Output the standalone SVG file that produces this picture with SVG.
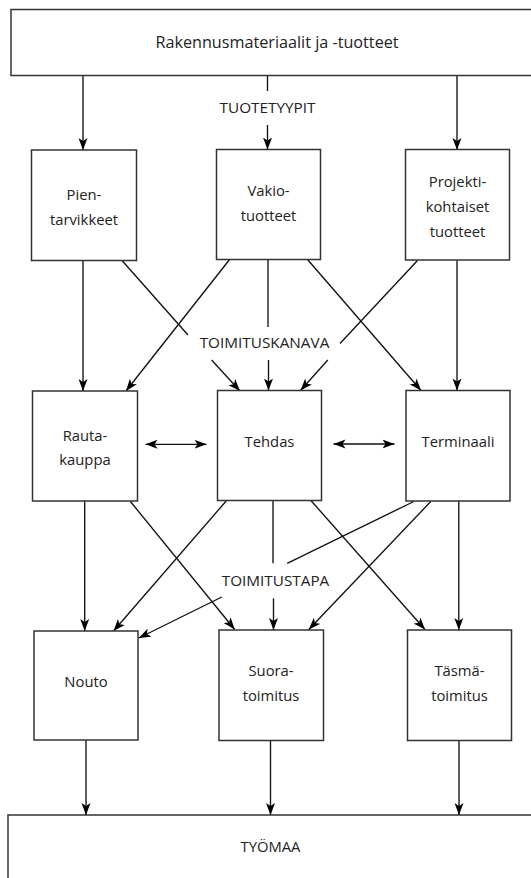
<svg xmlns="http://www.w3.org/2000/svg" width="531" height="878" viewBox="0 0 531 878">
<style>
.box{fill:#fff;stroke:#333;stroke-width:1.5}
.ln{stroke:#111;stroke-width:1.35;fill:none}
.ar{marker-end:url(#ah)}
.dbl{marker-start:url(#ah);marker-end:url(#ah)}
text{font-family:"Open Sans","Noto Sans","DejaVu Sans",sans-serif;font-size:14.8px;fill:#222;text-anchor:middle}
.big{font-size:16.2px}
.lbl{font-size:15.3px}
</style>
<defs>
<marker id="ah" viewBox="0 0 14 10" markerWidth="14" markerHeight="10" refX="12" refY="5" orient="auto-start-reverse" markerUnits="userSpaceOnUse">
<path d="M0,0.5 L12,5 L0,9.5 L3,5 Z" fill="#000"/>
</marker>
</defs>
<g id="connectors">
<line class="ln ar" x1="83" y1="75.5" x2="83" y2="150"/>
<line class="ln" x1="267.5" y1="75.5" x2="267.5" y2="91"/>
<line class="ln ar" x1="267.5" y1="125" x2="267.5" y2="149.5"/>
<line class="ln ar" x1="457" y1="75.5" x2="457" y2="150"/>
<line class="ln ar" x1="83" y1="260.5" x2="83" y2="391"/>
<line class="ln" x1="122" y1="260.5" x2="188" y2="335"/>
<line class="ln ar" x1="211.6" y1="360" x2="240" y2="391"/>
<line class="ln ar" x1="229.6" y1="259.5" x2="126" y2="391"/>
<line class="ln" x1="268" y1="259.5" x2="268" y2="327"/>
<line class="ln ar" x1="268.5" y1="360" x2="268.5" y2="390.5"/>
<line class="ln ar" x1="307.5" y1="259.5" x2="421" y2="390.5"/>
<line class="ln" x1="417.5" y1="260.5" x2="340" y2="343.5"/>
<line class="ln ar" x1="327.8" y1="360" x2="300.5" y2="390.5"/>
<line class="ln ar" x1="457" y1="260.5" x2="457" y2="390.5"/>
<line class="ln dbl" x1="145.5" y1="444.3" x2="206.5" y2="444.3"/>
<line class="ln dbl" x1="333.5" y1="444" x2="394.5" y2="444"/>
<line class="ln ar" x1="84.7" y1="501" x2="84.7" y2="631"/>
<line class="ln ar" x1="130.4" y1="501.5" x2="234.7" y2="629.5"/>
<line class="ln ar" x1="226.2" y1="501" x2="113.5" y2="631"/>
<line class="ln" x1="273" y1="500.5" x2="273" y2="563.3"/>
<line class="ln ar" x1="273.5" y1="598.3" x2="273.5" y2="630"/>
<line class="ln ar" x1="310.9" y1="500.5" x2="425" y2="629.5"/>
<line class="ln" x1="413.8" y1="501.5" x2="287.2" y2="563.3"/>
<line class="ln ar" x1="221.8" y1="597" x2="138.8" y2="638"/>
<line class="ln ar" x1="430.8" y1="501.5" x2="308.8" y2="629.5"/>
<line class="ln ar" x1="458.8" y1="501" x2="458.8" y2="630"/>
<line class="ln ar" x1="86" y1="740" x2="86" y2="815"/>
<line class="ln ar" x1="270.5" y1="740.5" x2="270.5" y2="815"/>
<line class="ln ar" x1="459" y1="740.5" x2="459" y2="815"/>
</g>
<g id="labels">
<text class="lbl" x="267.5" y="113">TUOTETYYPIT</text>
<text class="lbl" x="264.5" y="348">TOIMITUSKANAVA</text>
<text class="lbl" x="275.5" y="586">TOIMITUSTAPA</text>
</g>
<g id="top">
<rect class="box" x="11" y="9.5" width="540" height="66"/>
<text class="big" x="277" y="48">Rakennusmateriaalit ja -tuotteet</text>
</g>
<g id="pientarvikkeet">
<rect class="box" x="31.5" y="150" width="105" height="110.5"/>
<text x="84" y="200">Pien-</text>
<text x="84" y="225">tarvikkeet</text>
</g>
<g id="vakiotuotteet">
<rect class="box" x="216.5" y="149.5" width="104" height="110"/>
<text x="268.5" y="196">Vakio-</text>
<text x="268.5" y="221">tuotteet</text>
</g>
<g id="projektikohtaiset">
<rect class="box" x="405.5" y="149.5" width="104" height="110.5"/>
<text x="457.5" y="187">Projekti-</text>
<text x="457.5" y="212">kohtaiset</text>
<text x="457.5" y="237">tuotteet</text>
</g>
<g id="rautakauppa">
<rect class="box" x="32.5" y="391" width="105" height="110"/>
<text x="85" y="441">Rauta-</text>
<text x="85" y="465">kauppa</text>
</g>
<g id="tehdas">
<rect class="box" x="217.5" y="390.5" width="104" height="110"/>
<text x="269.5" y="447">Tehdas</text>
</g>
<g id="terminaali">
<rect class="box" x="406" y="390.5" width="104" height="110.5"/>
<text x="458" y="447">Terminaali</text>
</g>
<g id="nouto">
<rect class="box" x="34" y="631" width="104" height="109"/>
<text x="86" y="687">Nouto</text>
</g>
<g id="suoratoimitus">
<rect class="box" x="219" y="630" width="104.5" height="110.5"/>
<text x="271" y="676">Suora-</text>
<text x="271" y="701">toimitus</text>
</g>
<g id="tasmatoimitus">
<rect class="box" x="407.5" y="630" width="104" height="110.5"/>
<text x="459.5" y="676">Täsmä-</text>
<text x="459.5" y="701">toimitus</text>
</g>
<g id="tyomaa">
<rect class="box" x="8" y="815" width="540" height="80"/>
<text x="270.5" y="852">TYÖMAA</text>
</g>
</svg>
